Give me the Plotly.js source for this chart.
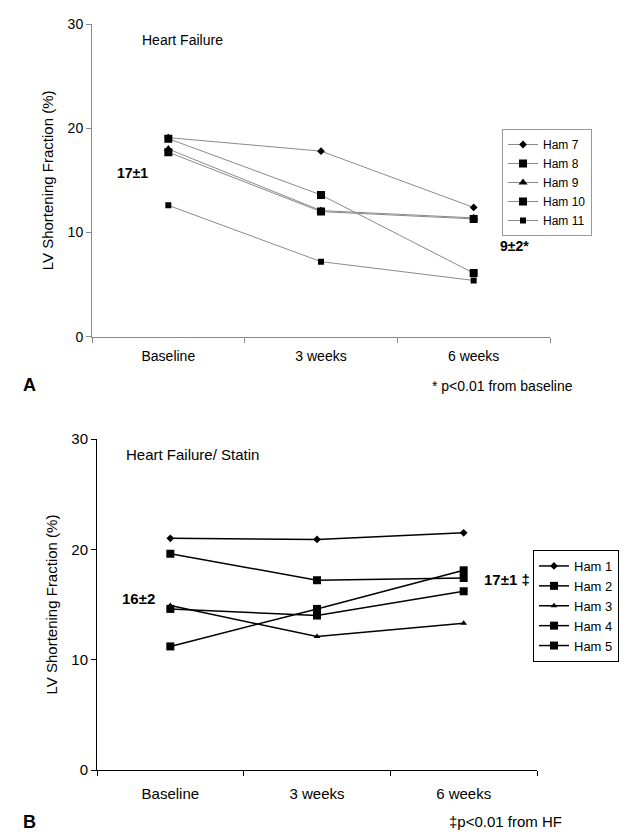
<!DOCTYPE html>
<html>
<head>
<meta charset="utf-8">
<script src="https://cdn.plot.ly/plotly-3.0.1.min.js"></script>
<style>
  html, body { margin: 0; padding: 0; background: #fff; }
  #chart { width: 635px; height: 835px; }
</style>
</head>
<body>
<div id="chart"></div>
<script>
// ---- Data ----
const categories = ["Baseline", "3 weeks", "6 weeks"];

// Panel A: Heart Failure
const hfNames = ["Ham 7", "Ham 8", "Ham 9", "Ham 10", "Ham 11"];
const ham7  = [19.1, 17.8, 12.4];
const ham8  = [19.0, 13.6, 6.1];
const ham9  = [18.0, 12.1, 11.4];
const ham10 = [17.7, 12.0, 11.3];
const ham11 = [12.6, 7.2, 5.4];

// Panel B: Heart Failure / Statin
const stNames = ["Ham 1", "Ham 2", "Ham 3", "Ham 4", "Ham 5"];
const ham1 = [21.0, 20.9, 21.5];
const ham2 = [19.6, 17.2, 17.4];
const ham3 = [14.9, 12.1, 13.3];
const ham4 = [14.6, 14.0, 16.2];
const ham5 = [11.2, 14.6, 18.1];

const yTicks = [0, 10, 20, 30];

// ---- Build ----
const W = 635, H = 835;
const px = v => v / W;
const py = v => 1 - v / H;
const FONT = "Liberation Sans, Arial, Helvetica, sans-serif";

const hfSeries = [ham7, ham8, ham9, ham10, ham11];
const hfSymbols = ["diamond", "square", "triangle-up", "square", "square"];
const hfSizes = [6, 8, 8, 8, 6];

const stSeries = [ham1, ham2, ham3, ham4, ham5];
const stSymbols = ["diamond", "square", "triangle-up", "square", "square"];
const stSizes = [6, 8, 6, 8, 8];

const traces = [];
hfSeries.forEach((vals, i) => {
  traces.push({
    type: "scatter", mode: "lines+markers",
    x: categories, y: vals, name: hfNames[i],
    xaxis: "x", yaxis: "y", legend: "legend",
    line: { color: "#8a8a8a", width: 1 },
    marker: { symbol: hfSymbols[i], size: hfSizes[i], color: "#000" }
  });
});
stSeries.forEach((vals, i) => {
  traces.push({
    type: "scatter", mode: "lines+markers",
    x: categories, y: vals, name: stNames[i],
    xaxis: "x2", yaxis: "y2", legend: "legend2",
    line: { color: "#000", width: 1.5 },
    marker: { symbol: stSymbols[i], size: stSizes[i], color: "#000" }
  });
});

function xAxis(domain, anchor, color, fs, standoff) {
  return {
    domain: domain, anchor: anchor, type: "category",
    range: [-0.5, 2.5], showline: true, linecolor: color, linewidth: 1,
    ticks: "outside", tickson: "boundaries", ticklen: 5, tickcolor: color,
    ticklabelstandoff: standoff,
    showgrid: false, zeroline: false, fixedrange: true,
    tickfont: { family: FONT, size: fs, color: "#000" }
  };
}
function yAxis(domain, anchor, color, fs) {
  return {
    domain: domain, anchor: anchor, range: [0, 30],
    tickmode: "array", tickvals: yTicks, ticktext: yTicks.map(String),
    showline: true, linecolor: color, linewidth: 1,
    ticks: "outside", ticklen: 5, tickcolor: color,
    showgrid: false, zeroline: false, fixedrange: true,
    tickfont: { family: FONT, size: fs, color: "#000" },
    title: { text: "LV Shortening Fraction (%)", font: { family: FONT, size: 15, color: "#000" }, standoff: 10 }
  };
}

function ann(text, x, y, size, bold) {
  return {
    text: bold ? "<b>" + text + "</b>" : text,
    xref: "paper", yref: "paper", x: px(x), y: py(y),
    xanchor: "left", yanchor: "middle", showarrow: false,
    font: { family: FONT, size: size, color: "#000" }
  };
}

const layout = {
  width: W, height: H,
  margin: { l: 0, r: 0, t: 0, b: 0 },
  paper_bgcolor: "#fff", plot_bgcolor: "#fff",
  font: { family: FONT, color: "#000" },
  xaxis: xAxis([px(92), px(550)], "y", "#8a8a8a", 14, 6),
  yaxis: yAxis([py(336.7), py(24)], "x", "#8a8a8a", 14),
  xaxis2: xAxis([px(97), px(537)], "y2", "#000", 15, 10),
  yaxis2: yAxis([py(770), py(439)], "x2", "#000", 15),
  legend: {
    x: px(502), y: py(129), xanchor: "left", yanchor: "top",
    bordercolor: "#999", borderwidth: 1, bgcolor: "#fff",
    font: { family: FONT, size: 12, color: "#000" },
    itemwidth: 30
  },
  legend2: {
    x: px(533), y: py(550), xanchor: "left", yanchor: "top",
    bordercolor: "#000", borderwidth: 1, bgcolor: "#fff",
    font: { family: FONT, size: 13, color: "#000" },
    itemwidth: 30
  },
  annotations: [
    ann("Heart Failure", 140, 40, 14, false),
    ann("17±1", 115, 173, 14, true),
    ann("9±2*", 498, 246, 14, true),
    ann("A", 21, 385, 18, true),
    ann("* p<0.01 from baseline", 430, 386, 14, false),
    ann("Heart Failure/ Statin", 124, 455, 15, false),
    ann("16±2", 120, 598, 15, true),
    ann("17±1 ‡", 482, 579, 15, true),
    ann("B", 21, 822, 18, true),
    ann("‡p<0.01 from HF", 447, 821, 15, false)
  ],
  showlegend: true
};

Plotly.newPlot("chart", traces, layout, { displayModeBar: false, staticPlot: true });
</script>
</body>
</html>
